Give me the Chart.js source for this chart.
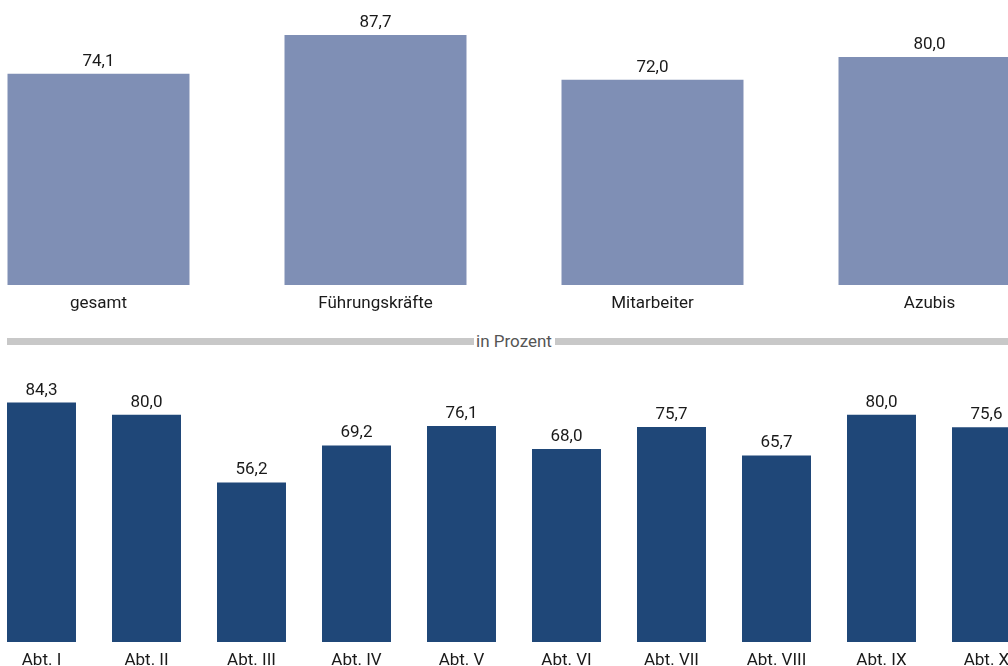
<!DOCTYPE html>
<html>
<head>
<meta charset="utf-8">
<script src="https://cdn.jsdelivr.net/npm/chart.js@4"></script>
<style>
    html, body { margin: 0; padding: 0; background: #fff; }
    body { width: 1008px; height: 666px; position: relative; overflow: hidden; font-family: Roboto, sans-serif; }
    #top-wrap { position: absolute; left: -40px; top: 0; width: 1108px; height: 315px; }
    #bottom-wrap { position: absolute; left: -11px; top: 358px; width: 1050px; height: 308px; }
    #divider { position: absolute; left: 7px; top: 338px; width: 1001px; height: 7px; }
    #divider .line { position: absolute; top: 0; height: 7px; background: #c8c8c8; }
    #divider .label { position: absolute; top: -7px; left: 467px; width: 80px; text-align: center; font-size: 17px; color: #555; line-height: 20px; }
</style>
</head>
<body>
<div id="top-wrap"><canvas id="topChart"></canvas></div>
<div id="divider">
    <div class="line" style="left:0;width:467px"></div>
    <div class="label">in Prozent</div>
    <div class="line" style="left:548px;width:460px"></div>
</div>
<div id="bottom-wrap"><canvas id="bottomChart"></canvas></div>
<script>
// top chart: groups
var groupLabels = ['gesamt', 'Führungskräfte', 'Mitarbeiter', 'Azubis'];
var groupValues = [74.1, 87.7, 72.0, 80.0];

// bottom chart: departments
var deptLabels = ['Abt. I', 'Abt. II', 'Abt. III', 'Abt. IV', 'Abt. V', 'Abt. VI', 'Abt. VII', 'Abt. VIII', 'Abt. IX', 'Abt. X'];
var deptValues = [84.3, 80.0, 56.2, 69.2, 76.1, 68.0, 75.7, 65.7, 80.0, 75.6];

var fontFamily = 'Roboto, sans-serif';

// draws the value above each bar, german decimal comma
var valueLabels = {
    id: 'valueLabels',
    afterDatasetsDraw: function(chart){
        var ctx = chart.ctx;
        var meta = chart.getDatasetMeta(0);
        var data = chart.data.datasets[0].data;
        ctx.save();
        ctx.font = '17px ' + fontFamily;
        ctx.fillStyle = '#1a1a1a';
        ctx.textAlign = 'center';
        ctx.textBaseline = 'alphabetic';
        meta.data.forEach(function(bar, i){
            ctx.fillText(data[i].toFixed(1).replace('.', ','), bar.x, bar.y - 8);
        });
        ctx.restore();
    }
};

function makeChart(id, labels, values, color, axisHeight){
    return new Chart(document.getElementById(id), {
        type: 'bar',
        data: {
            labels: labels,
            datasets: [{
                data: values,
                backgroundColor: color,
                categoryPercentage: 1,
                barPercentage: 0.657
            }]
        },
        options: {
            responsive: true,
            maintainAspectRatio: false,
            animation: false,
            layout: { padding: 0 },
            plugins: { legend: { display: false }, tooltip: { enabled: false } },
            scales: {
                x: {
                    grid: { display: false, drawTicks: false },
                    border: { display: false },
                    ticks: { color: '#1a1a1a', font: { family: fontFamily, size: 17 }, padding: 9, maxRotation: 0, autoSkip: false },
                    afterFit: function(scale){ scale.height = axisHeight; }
                },
                y: { display: false, min: 0, max: 100 }
            }
        },
        plugins: [valueLabels]
    });
}

makeChart('topChart', groupLabels, groupValues, '#7f8fb5', 30);
makeChart('bottomChart', deptLabels, deptValues, '#1f4778', 24);
</script>
</body>
</html>
